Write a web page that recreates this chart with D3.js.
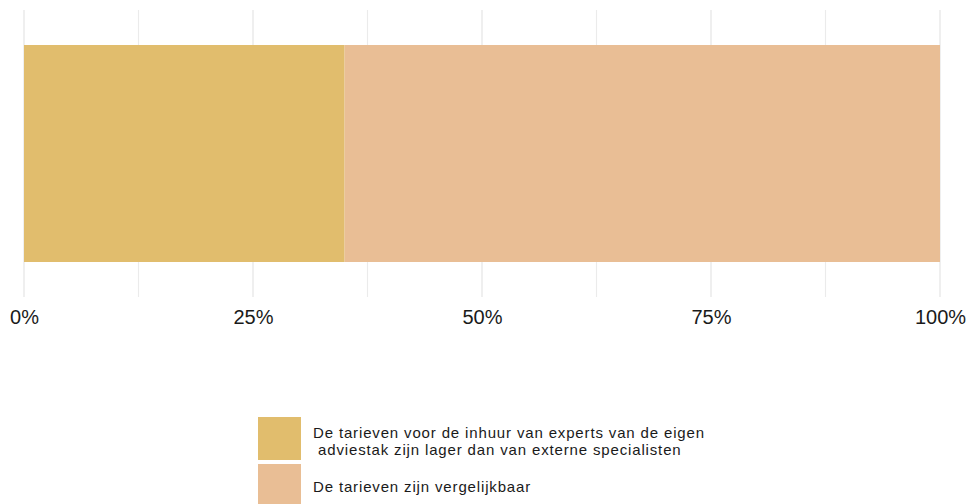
<!DOCTYPE html>
<html>
<head>
<meta charset="utf-8">
<script src="https://cdn.jsdelivr.net/npm/d3@7"></script>
<style>
  html, body { margin: 0; padding: 0; background: #fff; }
  svg { display: block; }
  svg text { font-family: Arial, "Liberation Sans", Helvetica, sans-serif; }
</style>
</head>
<body>
<svg id="chart" width="968" height="504"></svg>
<script>
// Share of responses (percent), stacked left to right
const categories = [
  "De tarieven voor de inhuur van experts van de eigen\n adviestak zijn lager dan van externe specialisten",
  "De tarieven zijn vergelijkbaar"
];
const values = [35, 65];
const colors = ["#E1BD6D", "#E9BE95"];
const tickValues = [0, 25, 50, 75, 100];
const tickLabels = ["0%", "25%", "50%", "75%", "100%"];
const minorTicks = [12.5, 37.5, 62.5, 87.5];

const FONT = "Arial, 'Liberation Sans', Helvetica, sans-serif";
const svg = d3.select("#chart");
const plot = { left: 24, right: 940, top: 10, bottom: 297 };

const x = d3.scaleLinear().domain([0, 100]).range([plot.left, plot.right]);

// gridlines
svg.append("g").selectAll("line")
  .data(tickValues.concat(minorTicks))
  .join("line")
  .attr("x1", d => x(d)).attr("x2", d => x(d))
  .attr("y1", plot.top).attr("y2", plot.bottom)
  .attr("stroke", "#EBEBEB")
  .attr("stroke-width", d => tickValues.includes(d) ? 1.6 : 1.1);

// stacked segments
let acc = 0;
const segs = values.map((v, i) => { const s = { x0: acc, x1: acc + v, c: colors[i] }; acc += v; return s; });
svg.append("g").selectAll("rect")
  .data(segs)
  .join("rect")
  .attr("x", d => x(d.x0))
  .attr("width", d => x(d.x1) - x(d.x0))
  .attr("y", 45)
  .attr("height", 217)
  .attr("fill", d => d.c);

// x axis labels
const axis = d3.axisBottom(x).tickValues(tickValues).tickFormat((d, i) => tickLabels[i]).tickSize(0).tickPadding(0);
const ax = svg.append("g").attr("transform", `translate(0,${plot.bottom})`).call(axis);
ax.attr("font-family", FONT);
ax.select(".domain").remove();
ax.selectAll("text")
  .attr("y", 26.5)
  .attr("dy", 0)
  .attr("font-size", 20)
  .attr("fill", "#1a1a1a");

// legend
const legend = svg.append("g").attr("font-family", FONT);
const keyX = 258, keyW = 43;
const keys = [{ y: 417, h: 43 }, { y: 464, h: 40 }];
const lh = 16.8;
categories.forEach((cat, i) => {
  const k = keys[i];
  legend.append("rect")
    .attr("x", keyX).attr("y", k.y)
    .attr("width", keyW).attr("height", k.h)
    .attr("fill", colors[i]);
  const lines = cat.split("\n");
  const cy = k.y + k.h / 2;
  const t = legend.append("text")
    .attr("font-size", 15)
    .attr("letter-spacing", 0.85)
    .attr("fill", "#1a1a1a")
    .style("white-space", "pre");
  lines.forEach((ln, j) => {
    t.append("tspan")
      .attr("x", 313)
      .attr("y", cy + 8 + (j - (lines.length - 1) / 2) * lh)
      .text(ln);
  });
});
</script>
</body>
</html>
